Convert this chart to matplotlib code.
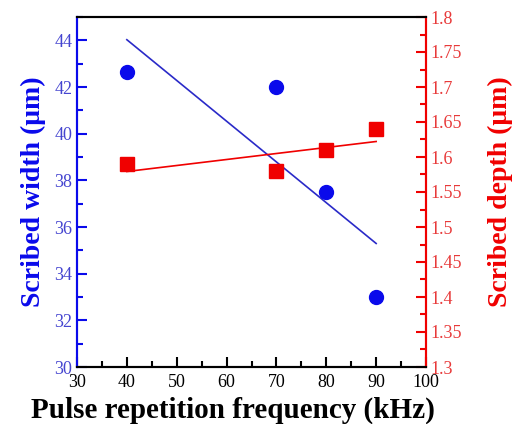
import matplotlib.pyplot as plt
import numpy as np
from matplotlib.ticker import MultipleLocator

plt.rcParams['font.family'] = ['Liberation Serif', 'DejaVu Serif']

freq = [40, 70, 80, 90]
width = [42.65, 42.0, 37.5, 33.0]
depth = [1.59, 1.58, 1.61, 1.64]

BLUE = '#0a0aeb'
RED = '#f00000'

fig = plt.figure(figsize=(5.17, 4.24), dpi=100)
ax = fig.add_axes([77 / 517, 57 / 424, 349 / 517, 350 / 424])
ax2 = ax.twinx()

# linear fits
fx = np.array([freq[0], freq[-1]])
pw = np.polyfit(freq, width, 1)
pd = np.polyfit(freq, depth, 1)
ax.plot(fx, np.polyval(pw, fx), color='#2a2ac8', lw=1.2)
ax2.plot(fx, np.polyval(pd, fx), color=RED, lw=1.2)
ax.plot(freq, width, 'o', color=BLUE, ms=10, ls='none')
ax2.plot(freq, depth, 's', color=RED, ms=10, ls='none')

ax.set_xlim(30, 100)
ax.set_ylim(30, 45)
ax2.set_ylim(1.3, 1.8)

ax.xaxis.set_major_locator(MultipleLocator(10))
ax.xaxis.set_minor_locator(MultipleLocator(5))
ax.yaxis.set_major_locator(MultipleLocator(2))
ax.yaxis.set_minor_locator(MultipleLocator(1))
ax2.yaxis.set_major_locator(MultipleLocator(0.05))
ax2.yaxis.set_minor_locator(MultipleLocator(0.025))
ax2.yaxis.set_major_formatter(plt.FuncFormatter(lambda v, p: f'{v:g}'))

for a in (ax, ax2):
    for s in a.spines.values():
        s.set_linewidth(1.5)
ax.spines['left'].set_color(BLUE)
ax2.spines['left'].set_color(BLUE)
ax.spines['right'].set_color(RED)
ax2.spines['right'].set_color(RED)

ax.tick_params(axis='x', which='both', direction='in', top=False, labelsize=13, pad=5)
ax.tick_params(axis='x', which='major', length=7, width=1.5)
ax.tick_params(axis='x', which='minor', length=4, width=1.5)
ax.tick_params(axis='y', which='both', direction='in', colors=BLUE, labelsize=13, width=1.5)
ax.tick_params(axis='y', which='major', length=7)
ax.tick_params(axis='y', which='minor', length=4)
for t in ax.get_yticklabels():
    t.set_color('#4545d0')
ax2.tick_params(axis='y', which='both', direction='in', colors=RED, labelsize=13, width=1.5)
ax2.tick_params(axis='y', which='major', length=7)
ax2.tick_params(axis='y', which='minor', length=4)
for t in ax2.get_yticklabels():
    t.set_color('#e83a3a')

ax.set_xlabel('Pulse repetition frequency (kHz)', fontsize=21, fontweight='bold', labelpad=2)
ax.xaxis.set_label_coords(0.447, -0.085)
ax.set_ylabel('Scribed width (μm)', fontsize=20, fontweight='bold', color=BLUE, labelpad=6)
ax2.set_ylabel('Scribed depth (μm)', fontsize=20, fontweight='bold', color=RED, labelpad=18)

fig.savefig('out.png', dpi=100)
